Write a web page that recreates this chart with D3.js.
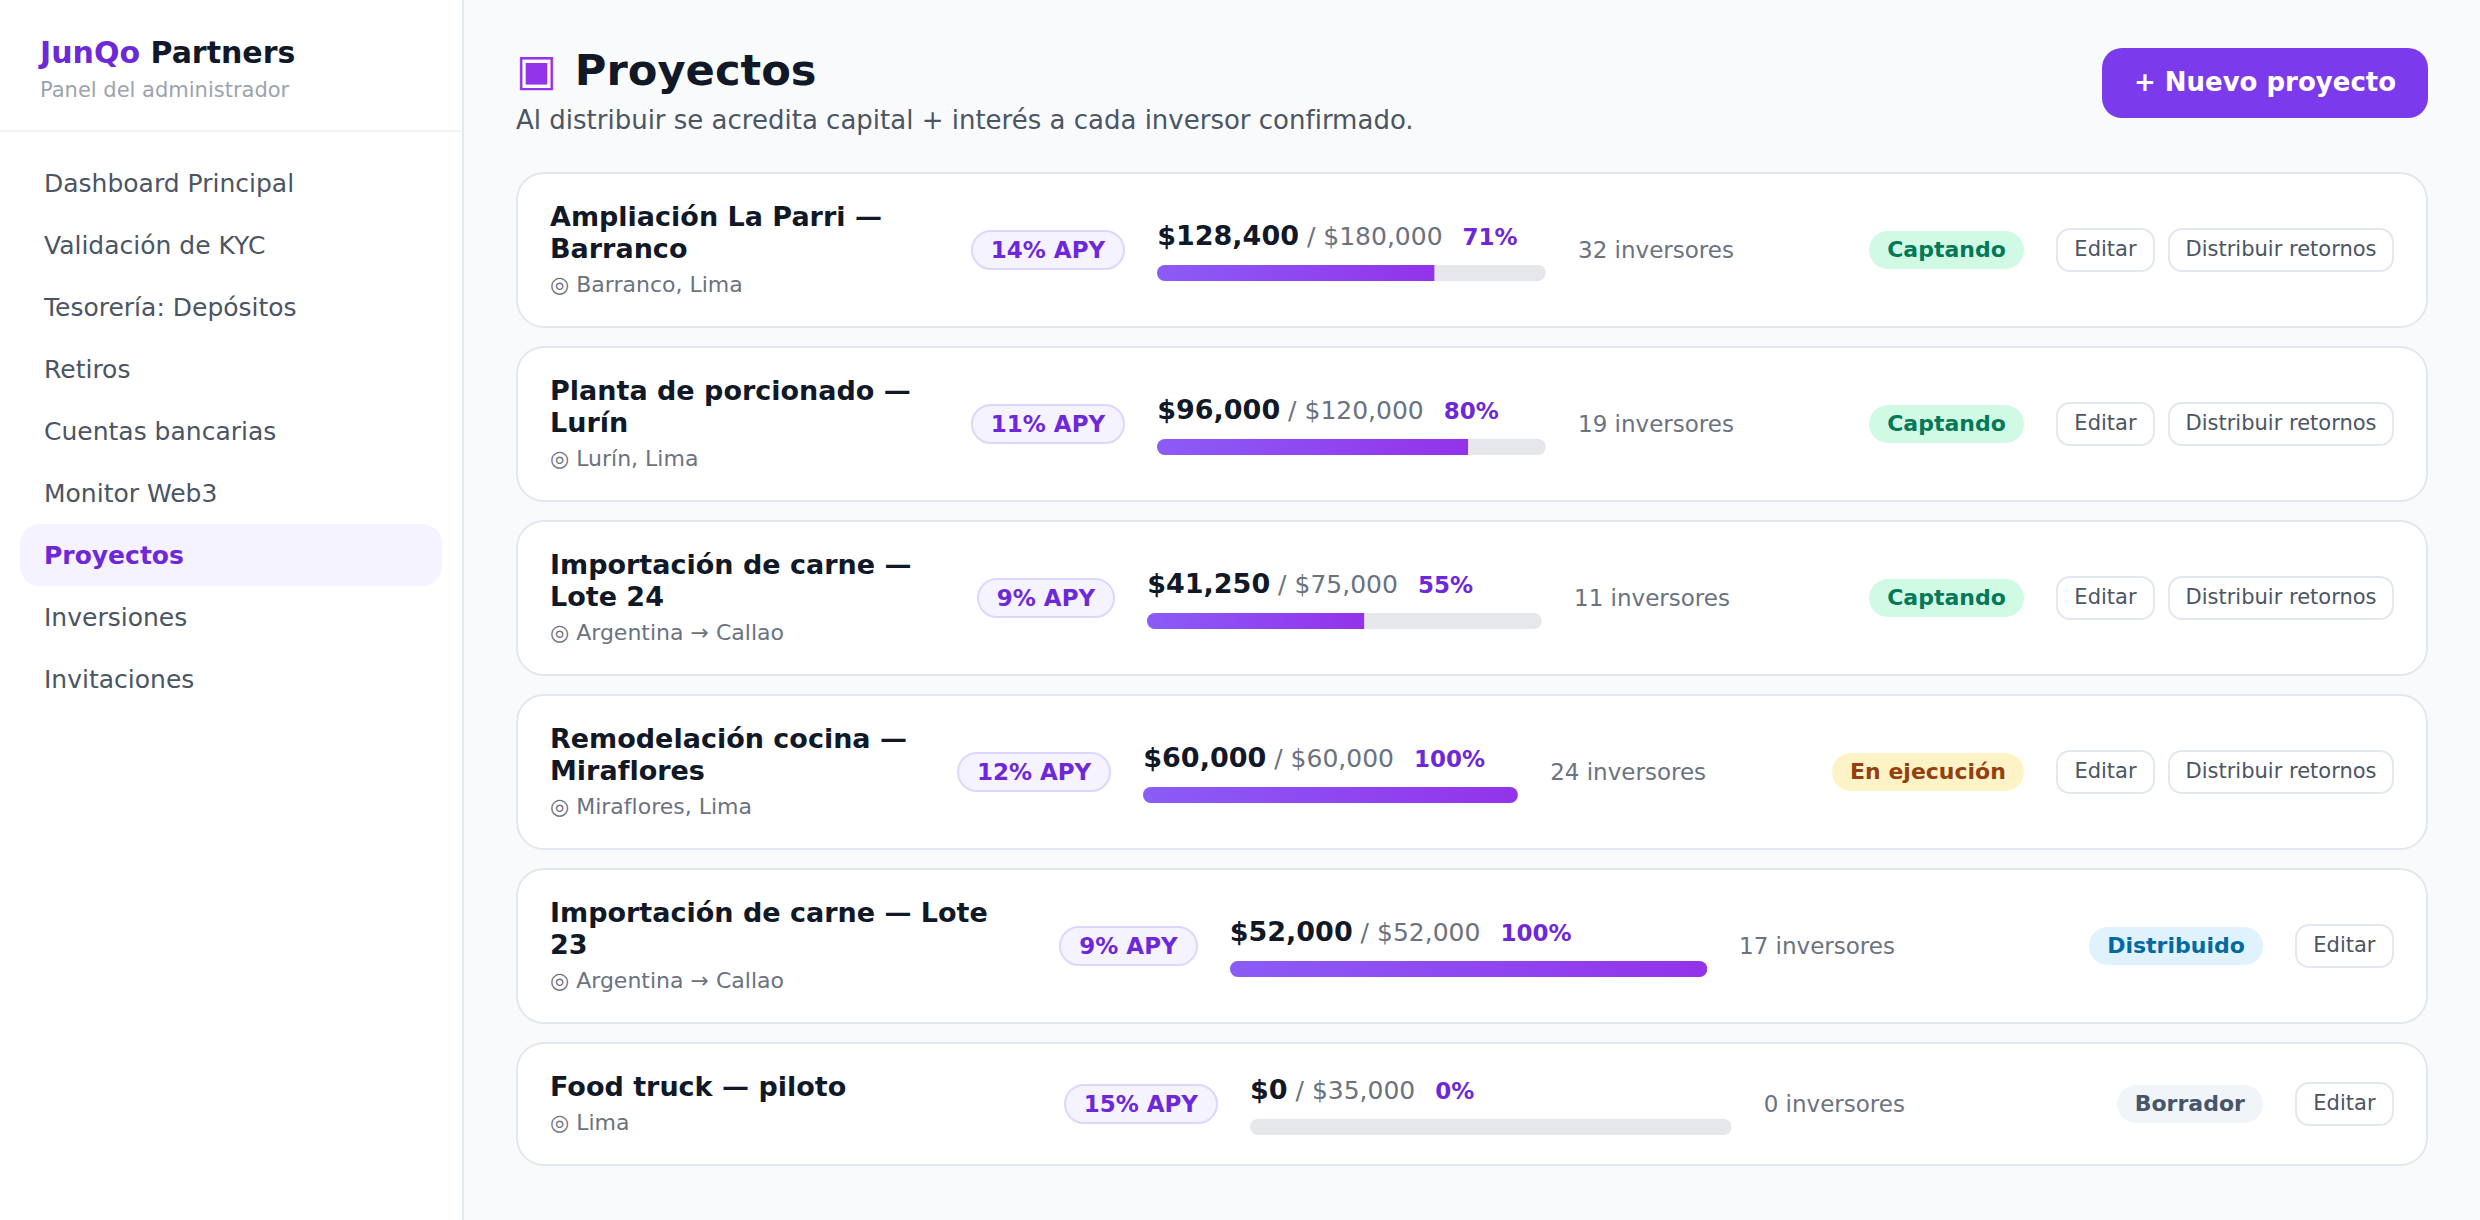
<!DOCTYPE html>
<html lang="es"><head><meta charset="utf-8"><title>Proyectos</title>
<script src="https://cdn.jsdelivr.net/npm/d3@7/dist/d3.min.js"></script>
<style>
*{box-sizing:border-box}
html,body{margin:0;height:100%;background:#f9fafb;font-family:"DejaVu Sans",sans-serif;overflow:hidden}
#app{display:flex;width:2480px;height:1220px}
aside{width:464px;flex:none;background:#fff;border-right:2px solid #e2e8f0;height:100%}
.brand{height:132px;border-bottom:2px solid #f3f4f6;padding:33px 0 0 40px}
.brand .t{font-size:30px;font-weight:700;line-height:40px;color:#111827}
.brand .t span{color:#6d28d9}
.brand .s{font-size:21px;line-height:30px;color:#9ca3af;margin-top:2px}
nav{padding:20px 20px 0}
nav div{height:62px;line-height:64px;padding-left:24px;font-size:25px;color:#4b5563;border-radius:20px}
nav div.on{background:#f5f3ff;color:#6d28d9;font-weight:700}
main{flex:1;padding:48px 52px 0;min-width:0}
header{display:flex;justify-content:space-between;height:124px}
h1{margin:0;font-size:43.2px;line-height:44px;font-weight:700;color:#111827}
h1 span{color:#9333ea;margin-right:3px}
.sub{font-size:26px;line-height:34px;color:#4b5563;margin-top:11px}
.new{width:326px;height:70px;line-height:68px;text-align:center;background:#7c3aed;color:#fff;font-weight:700;font-size:26px;border-radius:20px}
.card{display:flex;align-items:center;gap:32px;background:#fff;border:2px solid #e2e8f0;border-radius:28px;padding:27px 32px;margin-bottom:18px}
.name{flex:1.5 1 0;min-width:0}
.name .n{font-size:27px;line-height:32px;font-weight:700;color:#111827}
.name .l{font-size:22px;line-height:30px;margin-top:4px;color:#6b7280;position:relative;top:.5px}
.apy{flex:none;height:40px;line-height:36px;padding:0 18px;border:2px solid #ddd6fe;background:#f5f3ff;color:#6d28d9;font-weight:700;font-size:23px;border-radius:20px;white-space:nowrap}
.prog{flex:1.5 1 0;min-width:0}
.prog .m{white-space:nowrap;line-height:32px;margin-bottom:12px;font-size:25px;color:#6b7280}
.prog .m b{font-size:27px;color:#111827}
.prog .m i{font-style:normal;font-weight:700;font-size:23px;color:#6d28d9;margin-left:20px}
.track{height:16px}
.track svg{display:block;width:100%;height:16px}
.count{flex:1 1 0;min-width:0;font-size:23px;color:#6b7280;white-space:nowrap}
.status{flex:none;height:38px;line-height:38px;padding:0 18px;font-size:22px;font-weight:700;border-radius:19px;white-space:nowrap}
.acts{flex:none;display:flex;gap:13px}
.btn{height:44px;line-height:39px;padding:0 15.5px;border:2px solid #e2e8f0;border-radius:14px;background:#fff;font-size:21px;color:#4b5563;white-space:nowrap}
.btn:first-child{padding:0 16.5px}
</style></head><body><div id="app"></div>
<script>
const navItems=["Dashboard Principal","Validación de KYC","Tesorería: Depósitos","Retiros","Cuentas bancarias","Monitor Web3","Proyectos","Inversiones","Invitaciones"];
const activeNav="Proyectos";
const projectNames=["Ampliación La Parri — Barranco","Planta de porcionado — Lurín","Importación de carne — Lote 24","Remodelación cocina — Miraflores","Importación de carne — Lote 23","Food truck — piloto"];
const places=["Barranco, Lima","Lurín, Lima","Argentina → Callao","Miraflores, Lima","Argentina → Callao","Lima"];
const apyRates=[14,11,9,12,9,15];
const raised=[128400,96000,41250,60000,52000,0];
const goals=[180000,120000,75000,60000,52000,35000];
const investors=[32,19,11,24,17,0];
const statuses=["Captando","Captando","Captando","En ejecución","Distribuido","Borrador"];
const canDistribute=[true,true,true,true,false,false];
const statusColors={"Captando":["#d1fae5","#047857"],"En ejecución":["#fef3c7","#92400e"],"Distribuido":["#e0f2fe","#0369a1"],"Borrador":["#f1f5f9","#475569"]};

const money=d3.format("$,");
const app=d3.select("#app");
const side=app.append("aside");
const brand=side.append("div").attr("class","brand");
brand.append("div").attr("class","t").html("<span>JunQo</span> Partners");
brand.append("div").attr("class","s").text("Panel del administrador");
side.append("nav").selectAll("div").data(navItems).join("div")
  .classed("on",d=>d===activeNav).text(d=>d);

const main=app.append("main");
const head=main.append("header");
const hl=head.append("div");
hl.append("h1").html("<span>▣</span> Proyectos");
hl.append("div").attr("class","sub").text("Al distribuir se acredita capital + interés a cada inversor confirmado.");
head.append("div").attr("class","new").text("+ Nuevo proyecto");

const defs=d3.select("body").append("svg").attr("width",0).attr("height",0).style("position","absolute");
const grad=defs.append("defs").append("linearGradient").attr("id","barFill");
grad.append("stop").attr("offset","0%").attr("stop-color","#8b5cf6");
grad.append("stop").attr("offset","100%").attr("stop-color","#9333ea");

const cards=main.selectAll(".card").data(projectNames.map((n,i)=>i)).join("div").attr("class","card");
const nm=cards.append("div").attr("class","name");
nm.append("div").attr("class","n").text(i=>projectNames[i]);
nm.append("div").attr("class","l").text(i=>"◎ "+places[i]);
cards.append("div").attr("class","apy").text(i=>apyRates[i]+"% APY");
const pr=cards.append("div").attr("class","prog");
const m=pr.append("div").attr("class","m");
m.append("b").text(i=>money(raised[i]));
m.append("span").text(i=>" / "+money(goals[i]));
m.append("i").text(i=>Math.round(raised[i]/goals[i]*100)+"%");
const tr=pr.append("div").attr("class","track");
cards.append("div").attr("class","count").text(i=>investors[i]+" inversores");
cards.append("div").attr("class","status")
  .style("background",i=>statusColors[statuses[i]][0])
  .style("color",i=>statusColors[statuses[i]][1])
  .text(i=>statuses[i]);
const acts=cards.append("div").attr("class","acts");
acts.append("div").attr("class","btn").text("Editar");
acts.filter(i=>canDistribute[i]).append("div").attr("class","btn").text("Distribuir retornos");

tr.each(function(i){
  const w=this.getBoundingClientRect().width;
  const x=d3.scaleLinear().domain([0,goals[i]]).range([0,w]);
  const svg=d3.select(this).append("svg");
  svg.append("clipPath").attr("id","clip"+i).append("rect").attr("width",w).attr("height",16).attr("rx",8);
  const g=svg.append("g").attr("clip-path",`url(#clip${i})`);
  g.append("rect").attr("width",x(goals[i])).attr("height",16).attr("fill","#e5e7eb");
  g.append("rect").attr("width",x(raised[i])).attr("height",16).attr("fill","url(#barFill)");
});
</script></body></html>
